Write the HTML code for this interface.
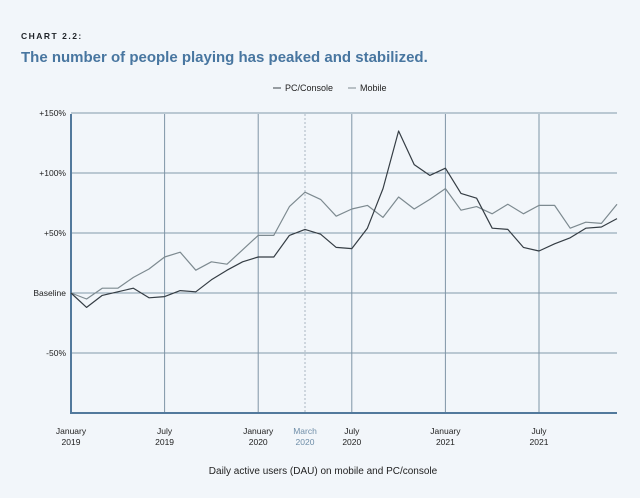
<!DOCTYPE html>
<html><head><meta charset="utf-8"><style>
body{margin:0;width:640px;height:498px;background:#f2f6fa;font-family:"Liberation Sans",sans-serif;overflow:hidden}
svg{position:absolute;left:0;top:0}
</style></head><body>
<svg width="640" height="498">
<text x="21" y="39" font-size="8.5" font-weight="bold" letter-spacing="1.5" fill="#1f2328">CHART 2.2:</text>
<text x="21" y="62" font-size="15" font-weight="bold" fill="#4876a0">The number of people playing has peaked and stabilized.</text>
<g font-size="9" fill="#222">
<g><line x1="273" y1="88" x2="281" y2="88" stroke="#3a4248"/><text x="285" y="91">PC/Console</text></g>
<g><line x1="348" y1="88" x2="356" y2="88" stroke="#7d8a90"/><text x="360" y="91">Mobile</text></g>
</g>
<g id="grid"></g>
<g id="series"></g>
<g id="labels" font-size="8.5" fill="#222"></g>
<text x="323" y="474" font-size="10" text-anchor="middle" fill="#222">Daily active users (DAU) on mobile and PC/console</text>
</svg>
<script>
const months = Array.from({length:36},(_,i)=>i);
const pcValues=[0,-12,-2,1,4,-4,-3,2,1,11,19,26,30,30,48,53,49,38,37,54,87,135,107,98,104,83,79,54,53,38,35,41,46,54,55,62];
const mobileValues=[0,-5,4,4,13,20,30,34,19,26,24,36,48,48,72,84,78,64,70,73,63,80,70,78,87,69,72,66,74,66,73,73,54,59,58,74];
const yTicks=[150,100,50,0,-50];
const yTickLabels=["+150%","+100%","+50%","Baseline","-50%"];
const xTickMonths=[0,6,12,15,18,24,30];
const xTickLabels=[["January","2019"],["July","2019"],["January","2020"],["March","2020"],["July","2020"],["January","2021"],["July","2021"]];
const NS="http://www.w3.org/2000/svg";
const X=m=>71+m*15.6, Y=v=>293-v*1.2;
function mk(t,a,p){const e=document.createElementNS(NS,t);for(const k in a)e.setAttribute(k,a[k]);p.appendChild(e);return e;}
const grid=document.getElementById('grid'),lab=document.getElementById('labels'),ser=document.getElementById('series');
yTicks.forEach((v,i)=>{
 const l=mk('line',{x1:71,x2:617,y1:Y(v),y2:Y(v),stroke:'#8399aa','stroke-width':1},grid);
 
 
 const t=mk('text',{x:66,y:Y(v)+3,'text-anchor':'end'},lab);t.textContent=yTickLabels[i];
 
 
});
xTickMonths.forEach((m,i)=>{
 const march=i===3;
 if(m>0){const l=mk('line',{x1:X(m),x2:X(m),y1:114,y2:413,stroke:march?'#a9b7c2':'#7f95a6','stroke-width':1,'stroke-dasharray':march?'2,2':'none'},grid);
 
 }
 const t=mk('text',{x:X(m),y:434,'text-anchor':'middle',fill:march?'#6f8ea8':'#222'},lab);
 
 
 mk('tspan',{x:X(m),dy:0},t).textContent=xTickLabels[i][0];
 mk('tspan',{x:X(m),dy:11},t).textContent=xTickLabels[i][1];
});
const ax=mk('line',{x1:71,x2:71,y1:114,y2:414,stroke:'#52799c','stroke-width':2},grid);


const bx=mk('line',{x1:70,x2:617,y1:413,y2:413,stroke:'#52799c','stroke-width':2},grid);


function line(vals,col,name){
 const p=mk('polyline',{points:vals.map((v,i)=>X(months[i])+','+Y(v)).join(' '),fill:'none',stroke:col,'stroke-width':1.2,'stroke-linejoin':'round'},ser);
 
 
}
line(mobileValues,'#7d8a90','mobile-line');
line(pcValues,'#353d44','pc-console-line');
</script>
</body></html>
